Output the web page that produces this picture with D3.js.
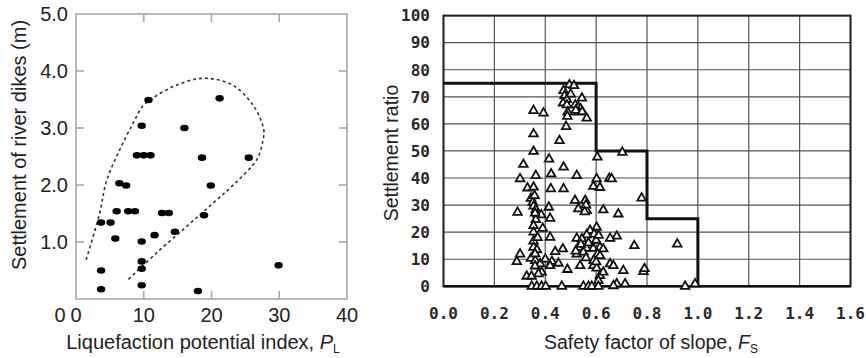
<!DOCTYPE html>
<html>
<head>
<meta charset="utf-8">
<script src="https://cdn.jsdelivr.net/npm/d3@7"></script>
<style>
  body { margin: 0; background: #fff; }
  svg { display: block; }
</style>
</head>
<body>
<div id="chart"></div>
<script>
// 1: DATA
// left panel: settlement of river dikes vs liquefaction potential index
const plTicks = [0, 10, 20, 30, 40];
const dikeTicks = [1, 2, 3, 4, 5];
const plIndex = [10.7, 21.2, 9.7, 16.0, 9.0, 10.0, 11.0, 18.6, 25.5, 6.4, 7.4, 19.9, 6.0, 7.7, 8.7,
                 12.7, 13.7, 18.9, 3.7, 5.1, 14.6, 11.6, 5.8, 9.7, 3.7, 9.7, 9.7, 29.9, 3.7, 9.7, 18.0];
const dikeSettlement = [3.49, 3.52, 3.04, 3.0, 2.52, 2.52, 2.52, 2.48, 2.48, 2.03, 1.99, 1.99, 1.54, 1.54, 1.54,
                        1.51, 1.51, 1.47, 1.34, 1.34, 1.18, 1.12, 1.06, 1.01, 0.50, 0.66, 0.53, 0.59, 0.17, 0.24, 0.14];
// dashed envelope drawn round the points
const envelopePL = [1.5, 3.5, 4.5, 6.5, 8.5, 9.9, 11.4, 14.4, 17.8, 20.3, 23.3, 26.2, 27.7, 27.6, 26.7, 23.3, 20.3, 16.4, 11.9, 7.7];
const envelopeS = [0.69, 1.51, 2.07, 2.63, 3.1, 3.39, 3.53, 3.73, 3.86, 3.86, 3.74, 3.39, 2.98, 2.78, 2.45, 2.01, 1.69, 1.28, 0.81, 0.34];

// right panel: settlement ratio vs safety factor of slope
const fsTicks = [0, 0.2, 0.4, 0.6, 0.8, 1.0, 1.2, 1.4, 1.6];
const ratioTicks = [0, 10, 20, 30, 40, 50, 60, 70, 80, 90, 100];
const safetyFactor = [0.495, 0.513, 0.472, 0.476, 0.485, 0.47, 0.485, 0.544, 0.518, 0.53, 0.539, 0.488, 0.53, 0.487, 0.563,
  0.482, 0.354, 0.393, 0.354, 0.456, 0.354, 0.605, 0.703, 0.314, 0.415, 0.472, 0.524, 0.301, 0.363, 0.423,
  0.602, 0.652, 0.661, 0.33, 0.354, 0.422, 0.472, 0.589, 0.615, 0.779, 0.344, 0.351, 0.517, 0.557, 0.291,
  0.354, 0.363, 0.414, 0.53, 0.563, 0.628, 0.687, 0.37, 0.384, 0.419, 0.363, 0.354, 0.39, 0.602, 0.576,
  0.592, 0.563, 0.354, 0.419, 0.524, 0.681, 0.655, 0.354, 0.544, 0.75, 0.919, 0.354, 0.367, 0.469, 0.439,
  0.53, 0.563, 0.589, 0.615, 0.628, 0.301, 0.524, 0.55, 0.606, 0.615, 0.344, 0.361, 0.288, 0.426, 0.38,
  0.419, 0.452, 0.537, 0.589, 0.655, 0.668, 0.602, 0.707, 0.786, 0.487, 0.386, 0.373, 0.327, 0.346, 0.615,
  0.609, 0.628, 0.681, 0.668, 0.714, 0.347, 0.367, 0.386, 0.402, 0.465, 0.55, 0.57, 0.583, 0.609, 0.95, 0.989,
  0.358, 0.36, 0.56, 0.555, 0.54, 0.57, 0.6, 0.59, 0.52, 0.56, 0.36, 0.37, 0.4, 0.79, 0.61, 0.5, 0.52, 0.545, 0.6, 0.36];
const settlementRatio = [74.4, 74.1, 72.3, 70.4, 69, 67.7, 67, 69.5, 67, 66.1, 65.5, 64.3, 64.3, 62.8, 62.1,
  59, 64.9, 64, 56.3, 53.8, 49.8, 47.7, 49.5, 45, 47, 44, 40.9, 39.7, 40.9, 41.5,
  39.7, 39.9, 39.7, 36.3, 36.6, 36, 36, 36.9, 36.5, 32.6, 32.5, 31, 31.7, 31.7, 27.3,
  29.6, 28.3, 29.2, 28.6, 28, 28.2, 26.7, 26.7, 26.4, 25.1, 24.6, 22.4, 21.4, 21.8, 20.6,
  19.3, 19, 20, 18.1, 17.7, 18.5, 17.7, 16.7, 17.5, 15, 15.6, 14.4, 13.5, 13.8, 12.8,
  14.4, 14, 14, 14.4, 13.8, 11.9, 11.9, 12.6, 11.9, 11.3, 10.3, 9.5, 9.1, 9.2, 8.3,
  7.6, 8.5, 7.6, 7.6, 8.3, 7.6, 6.7, 5.8, 5.4, 6.2, 5.2, 4.6, 3.7, 3.7, 3.9,
  2.1, 5.2, 0.9, 0.2, 0.9, 0, 0, 0, 0, 0, 0, 0, 0, 0, 0, 0.9,
  33.5, 27, 30, 27.5, 15.5, 16, 17, 9.5, 13, 10.5, 12, 18, 10, 6.5, 18.8, 71, 65, 64.5, 9, 7.5];
// boundary step line
const stepFS = [0, 0.6, 0.6, 0.8, 0.8, 1.0, 1.0];
const stepRatio = [75, 75, 50, 50, 25, 25, 0];

// 2: SVG
const W = 866, H = 358;
const svg = d3.select("#chart").append("svg")
    .attr("width", W)
    .attr("height", H);

const sans = "'Liberation Sans', Arial, sans-serif";
const mono = "'DejaVu Sans Mono', monospace";

// 3: LEFT PANEL
const xL = d3.scaleLinear().domain([0, 40]).range([76, 347]);
const yL = d3.scaleLinear().domain([0, 5]).range([299, 14]);
const left = svg.append("g");
const frameGray = "#a8a8a8";

left.append("rect")
    .attr("x", xL(0)).attr("y", yL(5))
    .attr("width", xL(40) - xL(0)).attr("height", yL(0) - yL(5))
    .attr("fill", "none").attr("stroke", frameGray).attr("stroke-width", 1.6);

// inward ticks on all four sides
plTicks.slice(1, -1).forEach(t => {
    left.append("line").attr("x1", xL(t)).attr("x2", xL(t)).attr("y1", yL(0)).attr("y2", yL(0) - 8)
        .attr("stroke", frameGray).attr("stroke-width", 1.6);
    left.append("line").attr("x1", xL(t)).attr("x2", xL(t)).attr("y1", yL(5)).attr("y2", yL(5) + 8)
        .attr("stroke", frameGray).attr("stroke-width", 1.6);
});
dikeTicks.slice(0, -1).forEach(t => {
    left.append("line").attr("x1", xL(0)).attr("x2", xL(0) + 8).attr("y1", yL(t)).attr("y2", yL(t))
        .attr("stroke", frameGray).attr("stroke-width", 1.6);
    left.append("line").attr("x1", xL(40)).attr("x2", xL(40) - 8).attr("y1", yL(t)).attr("y2", yL(t))
        .attr("stroke", frameGray).attr("stroke-width", 1.6);
});

left.selectAll(".xl-label")
    .data(plTicks)
    .enter().append("text")
    .attr("x", d => xL(d))
    .attr("y", 322)
    .attr("text-anchor", "middle")
    .style("font-family", sans).style("font-size", "20px").attr("fill", "#222")
    .text(d => d);

left.selectAll(".yl-label")
    .data(dikeTicks)
    .enter().append("text")
    .attr("x", 68)
    .attr("y", d => yL(d))
    .attr("dy", "0.36em")
    .attr("text-anchor", "end")
    .style("font-family", sans).style("font-size", "20px").attr("fill", "#222")
    .text(d => d3.format(".1f")(d));

left.append("text")
    .attr("x", 60).attr("y", 322)
    .attr("text-anchor", "middle")
    .style("font-family", sans).style("font-size", "20px").attr("fill", "#222")
    .text("0");

// dashed envelope
const envelope = envelopePL.map((v, i) => [v, envelopeS[i]]);
left.append("path")
    .datum(envelope)
    .attr("d", d3.line().x(d => xL(d[0])).y(d => yL(d[1])).curve(d3.curveCatmullRom))
    .attr("fill", "none")
    .attr("stroke", "#333")
    .attr("stroke-width", 1.6)
    .attr("stroke-dasharray", "3,3");

left.selectAll(".dot")
    .data(plIndex)
    .enter().append("ellipse")
    .attr("cx", d => xL(d))
    .attr("cy", (d, i) => yL(dikeSettlement[i]))
    .attr("rx", 4.2).attr("ry", 3.3)
    .attr("fill", "#000");

const xTitleL = left.append("text")
    .attr("x", 203).attr("y", 349)
    .attr("text-anchor", "middle")
    .style("font-family", sans).style("font-size", "20px").attr("fill", "#222");
xTitleL.append("tspan").text("Liquefaction potential index, ");
xTitleL.append("tspan").style("font-style", "italic").text("P");
xTitleL.append("tspan").attr("dy", 4).style("font-size", "12px").text("L");

left.append("text")
    .attr("transform", "translate(26,145) rotate(-90)")
    .attr("text-anchor", "middle")
    .style("font-family", sans).style("font-size", "20px").attr("fill", "#222")
    .text("Settlement of river dikes (m)");

// 4: RIGHT PANEL
const xR = d3.scaleLinear().domain([0, 1.6]).range([443.5, 850.5]);
const yR = d3.scaleLinear().domain([0, 100]).range([286.3, 15.6]);
const right = svg.append("g");

right.selectAll(".vgrid")
    .data(fsTicks)
    .enter().append("line")
    .attr("x1", d => xR(d)).attr("x2", d => xR(d))
    .attr("y1", yR(0)).attr("y2", yR(100))
    .attr("stroke", "#555").attr("stroke-width", 1.2);

right.selectAll(".hgrid")
    .data(ratioTicks)
    .enter().append("line")
    .attr("x1", xR(0)).attr("x2", xR(1.6))
    .attr("y1", d => yR(d)).attr("y2", d => yR(d))
    .attr("stroke", "#555").attr("stroke-width", 1.2);

right.append("rect")
    .attr("x", xR(0)).attr("y", yR(100))
    .attr("width", xR(1.6) - xR(0)).attr("height", yR(0) - yR(100))
    .attr("fill", "none").attr("stroke", "#222").attr("stroke-width", 2);

right.append("line")
    .attr("x1", xR(0)).attr("x2", xR(1.6)).attr("y1", yR(0)).attr("y2", yR(0))
    .attr("stroke", "#111").attr("stroke-width", 2.6);

right.selectAll(".xr-label")
    .data(fsTicks)
    .enter().append("text")
    .attr("x", d => xR(d))
    .attr("y", 319)
    .attr("text-anchor", "middle")
    .style("font-family", mono).style("font-size", "16px").style("font-weight", "bold").attr("fill", "#2a2a2a")
    .text(d => d3.format(".1f")(d));

right.selectAll(".yr-label")
    .data(ratioTicks)
    .enter().append("text")
    .attr("x", 430)
    .attr("y", d => yR(d))
    .attr("dy", "0.36em")
    .attr("text-anchor", "end")
    .style("font-family", mono).style("font-size", "16px").style("font-weight", "bold").attr("fill", "#2a2a2a")
    .text(d => d);

// step boundary
const step = stepFS.map((v, i) => [v, stepRatio[i]]);
right.append("path")
    .datum(step)
    .attr("d", d3.line().x(d => xR(d[0])).y(d => yR(d[1])))
    .attr("fill", "none")
    .attr("stroke", "#111")
    .attr("stroke-width", 3);

const tri = d3.symbol().type(d3.symbolTriangle).size(32);
right.selectAll(".tri")
    .data(safetyFactor)
    .enter().append("path")
    .attr("d", tri)
    .attr("transform", (d, i) => `translate(${xR(d)},${yR(settlementRatio[i])})`)
    .attr("fill", "#fff")
    .attr("stroke", "#111")
    .attr("stroke-width", 1.8);

const xTitleR = right.append("text")
    .attr("x", 651).attr("y", 349)
    .attr("text-anchor", "middle")
    .style("font-family", sans).style("font-size", "19.5px").attr("fill", "#222");
xTitleR.append("tspan").text("Safety factor of slope, ");
xTitleR.append("tspan").style("font-style", "italic").text("F");
xTitleR.append("tspan").attr("dy", 4).style("font-size", "12px").text("S");

right.append("text")
    .attr("transform", "translate(398,153) rotate(-90)")
    .attr("text-anchor", "middle")
    .style("font-family", sans).style("font-size", "19.5px").attr("fill", "#222")
    .text("Settlement ratio");
</script>
</body>
</html>
